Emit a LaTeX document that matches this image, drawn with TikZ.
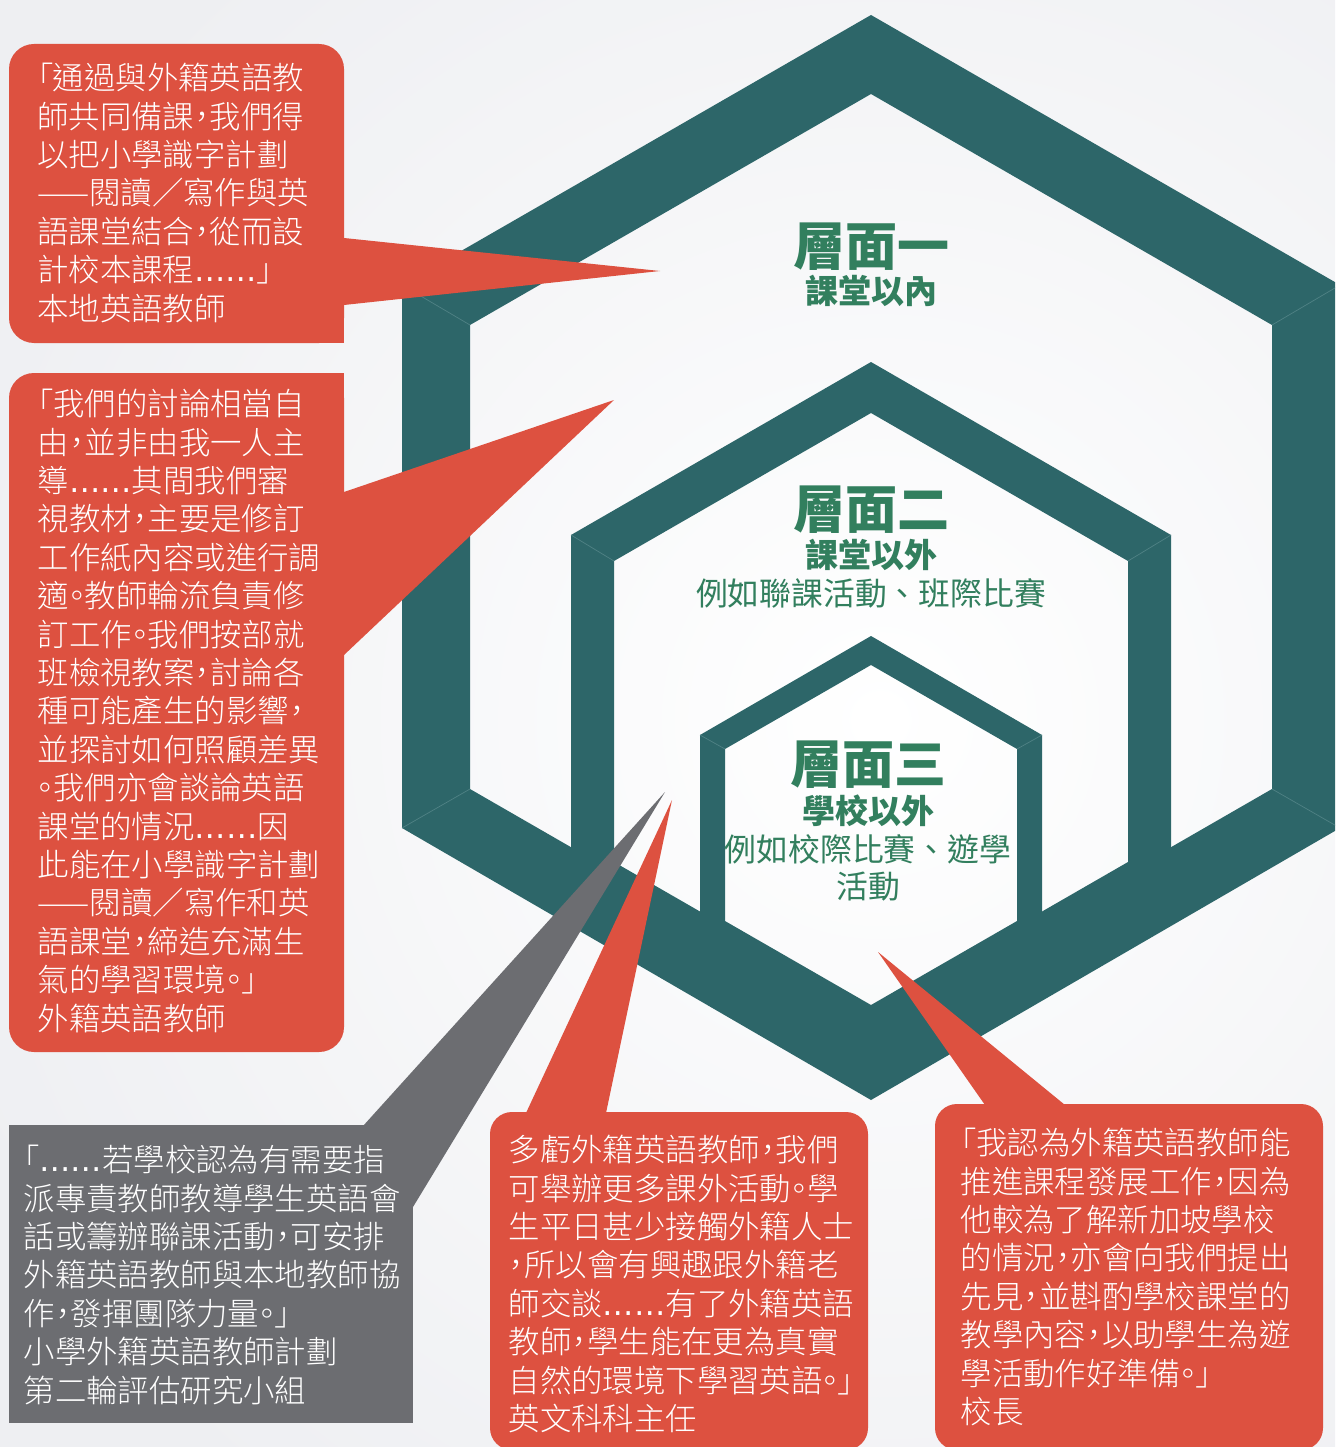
\documentclass[tikz,border=0pt]{standalone}
\usepackage{fontspec}
\IfFontExistsTF{Noto Sans CJK TC Light}
  {\newfontfamily\cjk{Noto Sans CJK TC Light}[RawFeature={+palt}]}
  {\IfFontExistsTF{Noto Sans CJK TC DemiLight}
    {\newfontfamily\cjk{Noto Sans CJK TC DemiLight}[RawFeature={+palt}]}
    {\newfontfamily\cjk{Noto Sans CJK TC}[RawFeature={+palt}]}}
\newfontfamily\cjkfull{Noto Sans CJK TC}
\newfontfamily\latinf{DejaVu Sans}
\newcommand\qdots{{\latinf……}}
\definecolor{teal1}{RGB}{45,102,105}
\definecolor{seam}{RGB}{80,130,133}
\definecolor{callred}{RGB}{221,81,64}
\definecolor{callgray}{RGB}{108,109,113}
\definecolor{lvgreen}{RGB}{50,127,94}
\definecolor{bgedge}{RGB}{238,239,242}
\begin{document}
\begin{tikzpicture}[x=1pt,y=-1pt,
  quote/.style={anchor=north west, inner sep=0pt, align=left, text=white,
    font=\cjk\fontsize{31.4}{38.4}\selectfont},
  lvtitle/.style={inner sep=0pt, text=lvgreen, font=\cjkfull\bfseries\fontsize{52}{56}\selectfont},
  lvsub/.style={inner sep=0pt, text=lvgreen, font=\cjkfull\bfseries\fontsize{33}{38}\selectfont},
  lvtext/.style={inner sep=0pt, text=lvgreen, font=\cjkfull\fontsize{31.8}{38}\selectfont},
  band/.style={fill=teal1, even odd rule},
  seamline/.style={draw=seam, line width=0.7pt},
  redfill/.style={fill=callred},
  grayfill/.style={fill=callgray}]
\useasboundingbox (0,0) rectangle (1335,1447);
\clip (0,0) rectangle (1335,1447);
% background
\fill[bgedge] (0,0) rectangle (1335,1447);
\shade[inner color=white, outer color=bgedge] (880,720) circle (1000);
% hexagon bands
\fill[band] (871,15) -- (1340,285) -- (1340,828) -- (871,1100) -- (402,828) -- (402,285) -- cycle
  (871,94) -- (1272,325) -- (1272,789) -- (871,1020) -- (470,789) -- (470,325) -- cycle;
\fill[band] (871,362) -- (1171,535) -- (1171,887) -- (871,1060) -- (571,887) -- (571,535) -- cycle
  (871,413) -- (1128,561) -- (1128,862) -- (871,1010) -- (614,862) -- (614,561) -- cycle;
\fill[band] (871,636) -- (1042,735) -- (1042,935) -- (871,1034) -- (700,935) -- (700,735) -- cycle
  (871,665) -- (1017,749) -- (1017,921) -- (871,1005) -- (725,921) -- (725,749) -- cycle;
% corner seams
\draw[seamline] (402,285) -- (470,325);
\draw[seamline] (1340,285) -- (1272,325);
\draw[seamline] (402,828) -- (470,789);
\draw[seamline] (1340,828) -- (1272,789);
\draw[seamline] (571,535) -- (614,561);
\draw[seamline] (1171,535) -- (1128,561);
\draw[seamline] (700,735) -- (725,749);
\draw[seamline] (1042,735) -- (1017,749);
% level texts
\node[lvtitle] (t1) at (871,247) {層面一};
\node[lvsub] (s1) at (871,291) {課堂以內};
\node[lvtitle] (t2) at (871,510) {層面二};
\node[lvsub] (s2) at (871,555) {課堂以外};
\node[lvtext] (e2) at (871,593) {例如聯課活動、班際比賽};
\node[lvtitle] (t3) at (868,765) {層面三};
\node[lvsub] (s3) at (868,811) {學校以外};
\node[lvtext] (e3) at (868,849) {例如校際比賽、遊學};
\node[lvtext] (f3) at (868,887) {活動};
% callout 1
\fill[redfill, rounded corners=25pt] (9,44) rectangle (344,343);
\fill[redfill] (300,300) rectangle (344,343);
\fill[redfill] (344,238) -- (660,271) -- (344,305) -- cycle;
% callout 2
\fill[redfill, rounded corners=25pt] (9,373) rectangle (344,1052);
\fill[redfill] (300,373) rectangle (344,420);
\fill[redfill] (344,492) -- (614,400) -- (344,655) -- cycle;
% callout 3 (gray)
\fill[grayfill] (9,1125) rectangle (413,1423);
\fill[grayfill] (363,1126) -- (665,792) -- (413,1207) -- (413,1126) -- cycle;
% callout 4
\fill[redfill, rounded corners=22pt] (490,1112) rectangle (868,1450);
\fill[redfill] (526,1113) -- (672,800) -- (606,1113) -- cycle;
% callout 5
\fill[redfill, rounded corners=22pt] (935,1104) rectangle (1323,1450);
\fill[redfill] (985,1105) -- (878,952) -- (1065,1105) -- cycle;
% quote texts
\node[quote] (q1) at (37,63) {「通過與外籍英語教\\
師共同備課，我們得\\
以把小學識字計劃\\
——閱讀／寫作與英\\
語課堂結合，從而設\\
計校本課程\qdots」\\
本地英語教師};
\node[quote] (q2) at (37.5,389) {「我們的討論相當自\\
由，並非由我一人主\\
導\qdots 其間我們審\\
視教材，主要是修訂\\
工作紙內容或進行調\\
適。教師輪流負責修\\
訂工作。我們按部就\\
班檢視教案，討論各\\
種可能產生的影響，\\
並探討如何照顧差異\\
。我們亦會談論英語\\
課堂的情況\qdots 因\\
此能在小學識字計劃\\
——閱讀／寫作和英\\
語課堂，締造充滿生\\
氣的學習環境。」\\
外籍英語教師};
\node[quote] (q3) at (23.5,1145) {「\qdots 若學校認為有需要指\\
派專責教師教導學生英語會\\
話或籌辦聯課活動，可安排\\
外籍英語教師與本地教師協\\
作，發揮團隊力量。」\\
小學外籍英語教師計劃\\
第二輪評估研究小組};
\node[quote] (q4) at (508.5,1135) {多虧外籍英語教師，我們\\
可舉辦更多課外活動。學\\
生平日甚少接觸外籍人士\\
，所以會有興趣跟外籍老\\
師交談\qdots 有了外籍英語\\
教師，學生能在更為真實\\
自然的環境下學習英語。」\\
英文科科主任};
\node[quote] (q5) at (960.5,1128) {「我認為外籍英語教師能\\
推進課程發展工作，因為\\
他較為了解新加坡學校\\
的情況，亦會向我們提出\\
先見，並斟酌學校課堂的\\
教學內容，以助學生為遊\\
學活動作好準備。」\\
校長};
\end{tikzpicture}
\end{document}
